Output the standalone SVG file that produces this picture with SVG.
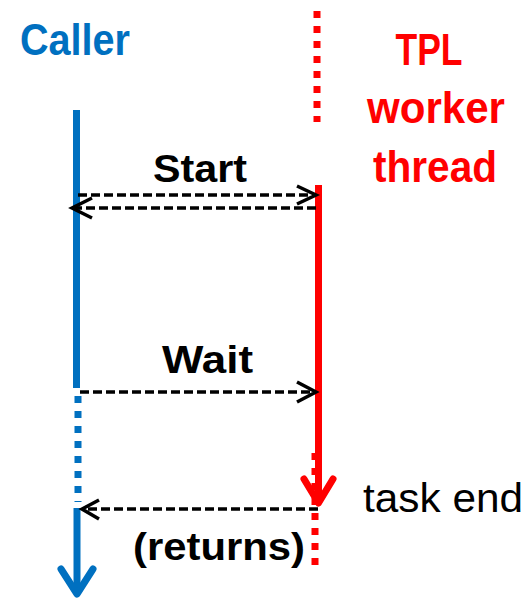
<svg xmlns="http://www.w3.org/2000/svg" width="531" height="598" viewBox="0 0 531 598">
<style>
.t{font-family:"Liberation Sans",Arial,sans-serif;font-weight:bold}
.blue{stroke:#0070C0;stroke-width:7;fill:none}
.red{stroke:#FF0000;stroke-width:7;fill:none}
.dot{stroke-dasharray:7 8}
.msg{stroke:#000;stroke-width:3.5;fill:none;stroke-dasharray:9 4}
.head{stroke:#000;stroke-width:3.5;fill:none;stroke-linejoin:miter}
.bighead{stroke-linecap:round;stroke-linejoin:round}
</style>
<rect width="531" height="598" fill="#fff"/>
<g id="caller">
<text class="t" x="20" y="55" font-size="45" fill="#0070C0" textLength="110" lengthAdjust="spacingAndGlyphs">Caller</text>
<line class="blue" x1="76.5" y1="110" x2="76.5" y2="388"/>
<line class="blue dot" x1="78" y1="396" x2="78" y2="502"/>
<line class="blue" x1="77" y1="508" x2="77" y2="592"/>
<polyline class="blue bighead" points="61,569 77,594 93,569"/>
</g>
<g id="worker">
<text class="t" x="429" y="65" font-size="44" fill="#FF0000" text-anchor="middle" textLength="67" lengthAdjust="spacingAndGlyphs">TPL</text>
<text class="t" x="436" y="123" font-size="44" fill="#FF0000" text-anchor="middle" textLength="138" lengthAdjust="spacingAndGlyphs">worker</text>
<text class="t" x="435" y="182" font-size="44" fill="#FF0000" text-anchor="middle" textLength="124" lengthAdjust="spacingAndGlyphs">thread</text>
<line class="red dot" x1="317" y1="11" x2="317" y2="122"/>
<line class="red dot" x1="315" y1="453" x2="315" y2="565"/>
<line class="red" x1="318.5" y1="185" x2="318.5" y2="500"/>
<polyline class="red bighead" points="304,479 318.5,503 333,479"/>
</g>
<g id="connectors">
<line class="msg" x1="78" y1="195" x2="314" y2="195"/>
<polyline class="head" points="297,186 316,195 297,204"/>
<line class="msg" x1="316" y1="208" x2="74" y2="208"/>
<polyline class="head" points="92,198 72,208 92,218"/>
<line class="msg" x1="80" y1="392" x2="314" y2="392"/>
<polyline class="head" points="297,382 316,392 297,402"/>
<line class="msg" x1="318" y1="509" x2="84" y2="509"/>
<polyline class="head" points="99,500 82,509 99,519"/>
</g>
<g id="labels">
<text class="t" x="153" y="182" font-size="38" fill="#000" textLength="94" lengthAdjust="spacingAndGlyphs">Start</text>
<text class="t" x="162" y="373" font-size="38" fill="#000" textLength="91" lengthAdjust="spacingAndGlyphs">Wait</text>
<text class="t" x="133" y="560" font-size="38" fill="#000" textLength="172" lengthAdjust="spacingAndGlyphs">(returns)</text>
<text x="363" y="512" font-family="Liberation Sans, Arial, sans-serif" font-size="40" fill="#000" textLength="160" lengthAdjust="spacingAndGlyphs">task end</text>
</g>
</svg>
